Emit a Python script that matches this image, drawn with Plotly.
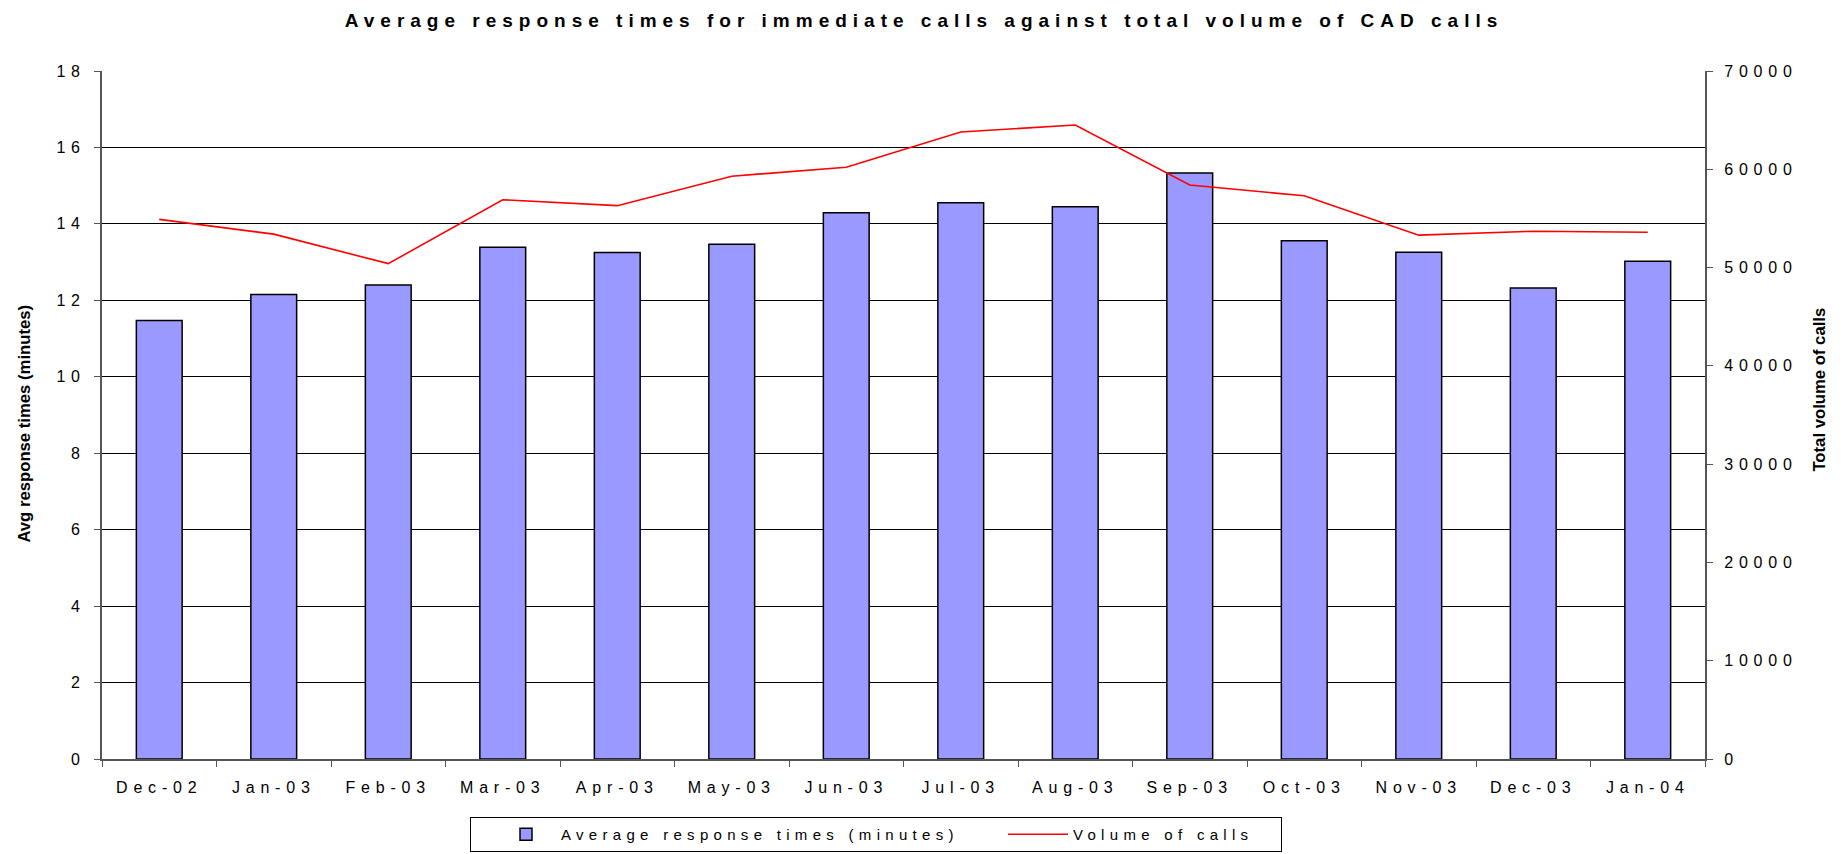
import plotly.graph_objects as go

months = ["Dec-02", "Jan-03", "Feb-03", "Mar-03", "Apr-03", "May-03", "Jun-03",
          "Jul-03", "Aug-03", "Sep-03", "Oct-03", "Nov-03", "Dec-03", "Jan-04"]
avg_response = [11.47, 12.15, 12.40, 13.39, 13.25, 13.47, 14.29,
                14.55, 14.45, 15.33, 13.56, 13.26, 12.32, 13.02]
call_volume = [54900, 53400, 50400, 56900, 56300, 59300, 60200,
               63800, 64500, 58400, 57300, 53300, 53700, 53600]

title_text = "Average response times for immediate calls against total volume of CAD calls"
left_title = "Avg response times (minutes)"
right_title = "Total volume of calls"
bar_name = "Average response times (minutes)"
line_name = "Volume of calls"

FONT = "Liberation Sans, Arial, sans-serif"
W, H = 1848, 854
ML, MR, MT, MB = 102, 143, 71, 95

fig = go.Figure()
fig.add_trace(go.Bar(
    x=months, y=avg_response, name=bar_name,
    marker=dict(color="#9999FF", line=dict(color="black", width=1.5)),
    yaxis="y", legendwidth=417,
))
fig.add_trace(go.Scatter(
    x=months, y=call_volume, name=line_name, mode="lines",
    line=dict(color="#FF0000", width=1.6),
    yaxis="y2", legendwidth=203,
))

tick_font = dict(family=FONT, size=16, color="black")

fig.update_layout(
    width=W, height=H,
    margin=dict(l=ML, r=MR, t=MT, b=MB, autoexpand=False),
    paper_bgcolor="white", plot_bgcolor="white",
    font=dict(family=FONT, size=16, color="black"),
    bargap=0.6,
    showlegend=True,
    title=dict(text="<b>" + title_text + "</b>", x=0.5, xref="container", xanchor="center",
               y=1 - 20 / H, yref="container", yanchor="middle",
               font=dict(family=FONT, size=19, color="black")),
    xaxis=dict(
        type="category", range=[-0.5, 13.5],
        showline=True, linecolor="#555555", linewidth=2,
        ticks="outside", tickson="boundaries", ticklen=6, tickcolor="#555555", tickwidth=1,
        showgrid=False, ticklabelstandoff=13, tickangle=0,
        tickfont=tick_font,
    ),
    yaxis=dict(
        range=[0, 18], dtick=2, tick0=0,
        showline=True, linecolor="#555555", linewidth=2,
        ticks="outside", ticklen=6, tickcolor="#555555",
        showgrid=True, gridcolor="black", gridwidth=1, zeroline=False,
        ticklabelstandoff=5,
        tickfont=tick_font,
    ),
    yaxis2=dict(
        range=[0, 70000], dtick=10000, tick0=0, overlaying="y", side="right",
        tickformat="d",
        showline=True, linecolor="#555555", linewidth=2,
        ticks="outside", ticklen=6, tickcolor="#555555",
        showgrid=False, zeroline=False, ticklabelstandoff=8,
        tickfont=tick_font,
    ),
    legend=dict(
        orientation="h", x=(876 - ML) / (W - ML - MR), xanchor="center",
        y=-(817 - (H - MB)) / (H - MT - MB), yanchor="top",
        bordercolor="black", borderwidth=1, bgcolor="white",
        font=dict(family=FONT, size=15, color="black"),
        itemwidth=60, indentation=20, tracegroupgap=0,
    ),
    annotations=[
        dict(text="<b>" + left_title + "</b>", textangle=-90, xref="paper", yref="paper",
             x=(23.6 - ML) / (W - ML - MR), y=((H - MB) - 424) / (H - MT - MB),
             xanchor="center", yanchor="middle", showarrow=False,
             font=dict(family=FONT, size=16.7, color="black")),
        dict(text="<b>" + right_title + "</b>", textangle=-90, xref="paper", yref="paper",
             x=(1818.6 - ML) / (W - ML - MR), y=((H - MB) - 390) / (H - MT - MB),
             xanchor="center", yanchor="middle", showarrow=False,
             font=dict(family=FONT, size=16.7, color="black")),
    ],
)

post = """
var st = document.createElement('style');
st.innerHTML = 'body{margin:0;overflow:hidden;} .xtick text, .ytick text, .y2tick text {letter-spacing:5.8px;} .legendtext {letter-spacing:5.3px;} .gtitle {letter-spacing:6px;}';
document.head.appendChild(st);
"""

fig.write_html("out.html", post_script=post, config={"displayModeBar": False})
